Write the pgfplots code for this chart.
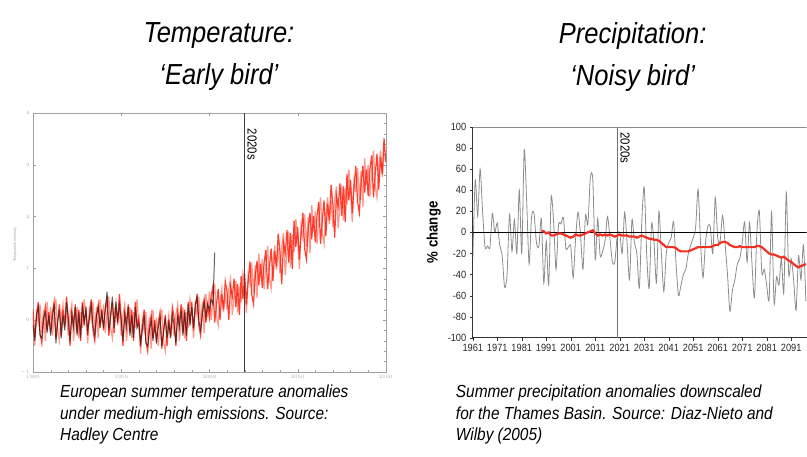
\documentclass[border=0pt]{standalone}
\usepackage{pgfplots}
\pgfplotsset{compat=1.18}
\usepackage{fontspec}
\setmainfont{Liberation Sans}[FakeStretch=0.88]
\definecolor{redA}{HTML}{FF2A1A}
\definecolor{redB}{HTML}{FF8070}
\definecolor{obs}{HTML}{2A1A1A}
\definecolor{precip}{HTML}{8C8C8C}
\definecolor{avg}{HTML}{F03224}
\begin{document}
\begin{tikzpicture}
\path (0pt,0pt) rectangle (807pt,457pt);
% titles
\node[font=\fontsize{29}{42}\selectfont\itshape, align=center] at (219pt,400pt) {Temperature:\\‘Early bird’};
\node[font=\fontsize{29}{42}\selectfont\itshape, align=center] at (633pt,400pt) {Precipitation:\\‘Noisy bird’};
% captions
\node[anchor=north west, align=left, inner sep=0pt, font=\fontsize{17.5}{21.5}\selectfont\itshape] at (60pt,72pt) {European summer temperature anomalies\\under medium-high emissions. Source:\\Hadley Centre};
\node[anchor=north west, align=left, inner sep=0pt, font=\fontsize{17.5}{21.5}\selectfont\itshape] at (456pt,72pt) {Summer precipitation anomalies downscaled\\for the Thames Basin. Source: Diaz-Nieto and\\Wilby (2005)};
% left y label (tiny, as in the reference)
\node[rotate=90, font=\fontsize{4}{4}\selectfont, text=gray!70] at (15pt,212pt) {Temperature anomaly};

% ---------------- left panel ----------------
\begin{axis}[at={(33pt,85pt)}, anchor=south west, width=353pt, height=259pt, scale only axis,
  xmin=1900, xmax=2100, ymin=-1, ymax=4,
  xtick={1900,1950,...,2100}, ytick={-1,0,1,2,3,4},
  minor x tick num=4, minor y tick num=4,
  tick align=inside, major tick length=3pt, minor tick length=1.5pt,
  axis line style={gray!75}, tick style={gray!75},
  ticklabel style={font=\fontsize{4}{4}\selectfont, text=gray!70},
  /pgf/number format/1000 sep={},
  clip=true]
\addplot[redB, line width=1.3pt, opacity=0.8] coordinates {
(1900,0.05)(1901,-0.50)(1902,0.15)(1903,-0.05)(1904,0.30)(1905,-0.25)(1906,0.20)(1907,-0.40)(1908,0.35)(1909,-0.10)
(1910,0.25)(1911,-0.30)(1912,0.10)(1913,0.40)(1914,-0.20)(1915,-0.40)(1916,0.05)(1917,0.30)(1918,-0.15)(1919,0.20)
(1920,-0.30)(1921,0.10)(1922,0.30)(1923,-0.40)(1924,-0.05)(1925,0.25)(1926,-0.35)(1927,0.15)(1928,-0.15)(1929,0.40)
(1930,0.10)(1931,-0.45)(1932,0.20)(1933,0.00)(1934,0.35)(1935,-0.20)(1936,0.25)(1937,-0.35)(1938,0.40)(1939,-0.05)
(1940,0.30)(1941,-0.25)(1942,0.15)(1943,0.45)(1944,-0.15)(1945,-0.35)(1946,0.10)(1947,0.35)(1948,-0.10)(1949,0.25)
(1950,-0.30)(1951,0.10)(1952,0.30)(1953,-0.40)(1954,-0.05)(1955,0.25)(1956,-0.35)(1957,0.15)(1958,-0.15)(1959,0.40)
(1960,-0.10)(1961,-0.65)(1962,0.00)(1963,-0.20)(1964,0.15)(1965,-0.40)(1966,0.05)(1967,-0.55)(1968,0.20)(1969,-0.25)
(1970,0.05)(1971,-0.50)(1972,-0.10)(1973,0.20)(1974,-0.40)(1975,-0.60)(1976,-0.15)(1977,0.10)(1978,-0.35)(1979,0.00)
(1980,-0.30)(1981,0.10)(1982,0.30)(1983,-0.40)(1984,-0.05)(1985,0.25)(1986,-0.35)(1987,0.15)(1988,-0.15)(1989,0.40)
(1990,0.20)(1991,-0.35)(1992,0.30)(1993,0.10)(1994,0.45)(1995,-0.10)(1996,0.35)(1997,-0.25)(1998,0.50)(1999,0.05)
(2000,0.55)(2001,0.00)(2002,0.40)(2003,0.70)(2004,0.10)(2005,-0.10)(2006,0.35)(2007,0.60)(2008,0.15)(2009,0.50)
(2010,0.20)(2011,0.60)(2012,0.80)(2013,0.10)(2014,0.45)(2015,0.75)(2016,0.15)(2017,0.65)(2018,0.35)(2019,0.90)
(2020,0.71)(2021,0.14)(2022,0.88)(2023,0.69)(2024,1.11)(2025,0.53)(2026,1.06)(2027,0.43)(2028,1.28)(2029,0.82)
(2030,1.18)(2031,0.60)(2032,1.07)(2033,1.43)(2034,0.80)(2035,0.61)(2036,1.14)(2037,1.44)(2038,0.97)(2039,1.39)
(2040,0.90)(2041,1.41)(2042,1.68)(2043,0.87)(2044,1.32)(2045,1.71)(2046,1.02)(2047,1.65)(2048,1.32)(2049,1.95)
(2050,1.62)(2051,0.99)(2052,1.80)(2053,1.59)(2054,2.04)(2055,1.41)(2056,1.98)(2057,1.29)(2058,2.22)(2059,1.71)
(2060,2.10)(2061,1.47)(2062,1.98)(2063,2.37)(2064,1.68)(2065,1.47)(2066,2.04)(2067,2.37)(2068,1.86)(2069,2.31)
(2070,1.80)(2071,2.31)(2072,2.58)(2073,1.77)(2074,2.22)(2075,2.61)(2076,1.92)(2077,2.55)(2078,2.22)(2079,2.91)
(2080,2.52)(2081,1.89)(2082,2.70)(2083,2.49)(2084,2.94)(2085,2.31)(2086,2.88)(2087,2.19)(2088,3.12)(2089,2.61)
(2090,3.00)(2091,2.37)(2092,2.88)(2093,3.27)(2094,2.58)(2095,2.37)(2096,2.94)(2097,3.27)(2098,2.76)(2099,3.21)
(2100,3.20)};
\addplot[redA, line width=1.2pt, opacity=0.9] coordinates {
(1900,0.20)(1901,-0.35)(1902,0.05)(1903,0.35)(1904,-0.25)(1905,-0.45)(1906,0.00)(1907,0.25)(1908,-0.20)(1909,0.15)
(1910,-0.25)(1911,0.15)(1912,0.35)(1913,-0.35)(1914,0.00)(1915,0.30)(1916,-0.30)(1917,0.20)(1918,-0.10)(1919,0.45)
(1920,0.05)(1921,-0.50)(1922,0.15)(1923,-0.05)(1924,0.30)(1925,-0.25)(1926,0.20)(1927,-0.40)(1928,0.35)(1929,-0.10)
(1930,0.25)(1931,-0.30)(1932,0.10)(1933,0.40)(1934,-0.20)(1935,-0.40)(1936,0.05)(1937,0.30)(1938,-0.15)(1939,0.20)
(1940,-0.20)(1941,0.20)(1942,0.40)(1943,-0.30)(1944,0.05)(1945,0.35)(1946,-0.25)(1947,0.25)(1948,-0.05)(1949,0.50)
(1950,0.05)(1951,-0.50)(1952,0.15)(1953,-0.05)(1954,0.30)(1955,-0.25)(1956,0.20)(1957,-0.40)(1958,0.35)(1959,-0.10)
(1960,0.05)(1961,-0.50)(1962,-0.10)(1963,0.20)(1964,-0.40)(1965,-0.60)(1966,-0.15)(1967,0.10)(1968,-0.35)(1969,0.00)
(1970,-0.45)(1971,-0.05)(1972,0.15)(1973,-0.55)(1974,-0.20)(1975,0.10)(1976,-0.50)(1977,0.00)(1978,-0.30)(1979,0.25)
(1980,0.05)(1981,-0.50)(1982,0.15)(1983,-0.05)(1984,0.30)(1985,-0.25)(1986,0.20)(1987,-0.40)(1988,0.35)(1989,-0.10)
(1990,0.35)(1991,-0.20)(1992,0.20)(1993,0.50)(1994,-0.10)(1995,-0.30)(1996,0.15)(1997,0.40)(1998,-0.05)(1999,0.30)
(2000,0.05)(2001,0.45)(2002,0.65)(2003,-0.05)(2004,0.30)(2005,0.60)(2006,0.00)(2007,0.50)(2008,0.20)(2009,0.75)
(2010,0.55)(2011,0.00)(2012,0.65)(2013,0.45)(2014,0.80)(2015,0.25)(2016,0.70)(2017,0.10)(2018,0.85)(2019,0.40)
(2020,0.88)(2021,0.30)(2022,0.77)(2023,1.13)(2024,0.50)(2025,0.31)(2026,0.84)(2027,1.14)(2028,0.67)(2029,1.09)
(2030,0.62)(2031,1.10)(2032,1.35)(2033,0.60)(2034,1.02)(2035,1.38)(2036,0.75)(2037,1.33)(2038,1.03)(2039,1.67)
(2040,1.32)(2041,0.69)(2042,1.50)(2043,1.29)(2044,1.74)(2045,1.11)(2046,1.68)(2047,0.99)(2048,1.92)(2049,1.41)
(2050,1.80)(2051,1.17)(2052,1.68)(2053,2.07)(2054,1.38)(2055,1.17)(2056,1.74)(2057,2.07)(2058,1.56)(2059,2.01)
(2060,1.50)(2061,2.01)(2062,2.28)(2063,1.47)(2064,1.92)(2065,2.31)(2066,1.62)(2067,2.25)(2068,1.92)(2069,2.61)
(2070,2.22)(2071,1.59)(2072,2.40)(2073,2.19)(2074,2.64)(2075,2.01)(2076,2.58)(2077,1.89)(2078,2.82)(2079,2.31)
(2080,2.70)(2081,2.07)(2082,2.58)(2083,2.97)(2084,2.28)(2085,2.07)(2086,2.64)(2087,2.97)(2088,2.46)(2089,2.91)
(2090,2.40)(2091,2.91)(2092,3.18)(2093,2.37)(2094,2.82)(2095,3.21)(2096,2.52)(2097,3.15)(2098,2.82)(2099,3.51)
(2100,3.05)};
\addplot[obs, line width=1.0pt, opacity=0.7] coordinates {
(1900,-0.10)(1901,-0.40)(1902,0.10)(1903,0.25)(1904,-0.30)(1905,-0.35)(1906,0.05)(1907,0.15)(1908,-0.25)(1909,0.10)
(1910,-0.30)(1911,0.05)(1912,0.30)(1913,-0.45)(1914,-0.05)(1915,0.20)(1916,-0.35)(1917,0.10)(1918,-0.20)(1919,0.35)
(1920,0.00)(1921,-0.40)(1922,0.10)(1923,-0.15)(1924,0.25)(1925,-0.30)(1926,0.15)(1927,-0.35)(1928,0.30)(1929,-0.05)
(1930,0.20)(1931,-0.20)(1932,0.05)(1933,0.30)(1934,-0.10)(1935,-0.30)(1936,0.10)(1937,0.25)(1938,-0.10)(1939,0.15)
(1940,-0.15)(1941,0.25)(1942,0.55)(1943,-0.20)(1944,0.10)(1945,0.45)(1946,-0.15)(1947,0.35)(1948,0.00)(1949,0.30)
(1950,0.00)(1951,-0.40)(1952,0.10)(1953,-0.15)(1954,0.25)(1955,-0.30)(1956,0.10)(1957,-0.35)(1958,0.25)(1959,-0.15)
(1960,-0.05)(1961,-0.45)(1962,-0.20)(1963,0.10)(1964,-0.45)(1965,-0.50)(1966,-0.20)(1967,0.00)(1968,-0.40)(1969,-0.10)
(1970,-0.40)(1971,-0.15)(1972,0.05)(1973,-0.50)(1974,-0.25)(1975,0.05)(1976,-0.35)(1977,-0.05)(1978,-0.35)(1979,0.10)
(1980,-0.10)(1981,-0.45)(1982,0.10)(1983,-0.15)(1984,0.20)(1985,-0.30)(1986,0.15)(1987,-0.30)(1988,0.30)(1989,-0.05)
(1990,0.25)(1991,-0.15)(1992,0.30)(1993,0.45)(1994,0.00)(1995,-0.20)(1996,0.10)(1997,0.35)(1998,0.05)(1999,0.30)
(2000,0.20)(2001,0.40)(2002,0.30)(2003,1.30)};
\draw[black!75, line width=0.7pt] (axis cs:2020,-1) -- (axis cs:2020,4);
\node[rotate=-90, anchor=south west, inner sep=0pt, font=\fontsize{13}{13}\selectfont] at (axis cs:2021.5,3.7) {2020s};
\end{axis}

% ---------------- right panel ----------------
\begin{axis}[at={(473pt,119pt)}, anchor=south west, width=334pt, height=211pt, scale only axis,
  xmin=1961, xmax=2097.3, ymin=-100, ymax=100,
  axis x line*=bottom, axis y line*=left,
  xtick={1961,1971,...,2091}, ytick={-100,-80,...,100},
  tick align=outside, major tick length=3pt,
  axis line style={black!80, line width=0.8pt}, tick style={black!80},
  ticklabel style={font=\fontsize{10.5}{10.5}\selectfont, text=black!85},
  /pgf/number format/assume math mode=true,
  /pgf/number format/1000 sep={},
  ylabel={\% change},
  ylabel style={font=\fontsize{15}{15}\selectfont\bfseries, at={(axis description cs:-0.085,0.5)}},
  clip=true]
\draw[black!45, line width=0.8pt] (rel axis cs:0,1) -- (rel axis cs:1,1);
\draw[black!55, line width=1.2pt] (axis cs:2020,-100) -- (axis cs:2020,100);
\addplot[precip, line width=0.8pt, smooth, tension=0.45] coordinates {
(1961,-26)(1962,50)(1963,15)(1964,60)(1965,20)(1966,-14)(1967,-13)(1968,-14)(1969,18)(1970,0)
(1971,9)(1972,-12)(1973,-22)(1974,-52)(1975,-40)(1976,17)(1977,-18)(1978,12)(1979,-20)(1980,40)
(1981,-20)(1982,78)(1983,30)(1984,-30)(1985,15)(1986,18)(1987,-10)(1988,-13)(1989,13)(1990,-48)
(1991,-8)(1992,-50)(1993,33)(1994,10)(1995,-35)(1996,7)(1997,8)(1998,14)(1999,-15)(2000,-14)
(2001,-13)(2002,-43)(2003,-5)(2004,19)(2005,-3)(2006,-35)(2007,16)(2008,8)(2009,52)(2010,50)
(2011,-26)(2012,13)(2013,-22)(2014,-18)(2015,-8)(2016,15)(2017,-5)(2018,-28)(2019,-28)(2020,-3)
(2021,0)(2022,-20)(2023,19)(2024,-10)(2025,-45)(2026,12)(2027,-10)(2028,-20)(2029,-53)(2030,10)
(2031,43)(2032,-20)(2033,-53)(2034,8)(2035,-10)(2036,-48)(2037,20)(2038,-20)(2039,-56)(2040,-20)
(2041,-10)(2042,-5)(2043,10)(2044,-30)(2045,-60)(2046,-50)(2047,-40)(2048,-35)(2049,-20)(2050,-12)
(2051,-5)(2052,5)(2053,41)(2054,-10)(2055,-43)(2056,-10)(2057,6)(2058,5)(2059,-20)(2060,33)
(2061,-5)(2062,-8)(2063,16)(2064,-10)(2065,-40)(2066,-75)(2067,-55)(2068,-45)(2069,-30)(2070,-25)
(2071,-10)(2072,10)(2073,-28)(2074,9)(2075,-30)(2076,-62)(2077,0)(2078,20)(2079,-38)(2080,-35)
(2081,-50)(2082,-63)(2083,19)(2084,-67)(2085,-42)(2086,-50)(2087,-25)(2088,-57)(2089,38)(2090,-40)
(2091,-25)(2092,-45)(2093,-74)(2094,-22)(2095,-45)(2096,-12)(2097,-65)};
\draw[black, line width=0.8pt] (axis cs:1961,0) -- (axis cs:2097.3,0);
\addplot[avg, line width=2.2pt] coordinates {
(1989,1)(1990,1)(1991,-1)(1992,0)(1993,-3)(1994,-3)(1995,-2)(1996,-1)(1997,-1)(1998,-2)
(1999,-3)(2000,-4)(2001,-5)(2002,-4)(2003,-2)(2004,-3)(2005,-3)(2006,-2)(2007,-1)(2008,0)
(2009,1)(2010,2)(2011,-1)(2012,-3)(2013,-2)(2014,-3)(2015,-2)(2016,-3)(2017,-2)(2018,-3)
(2019,-4)(2020,-3)(2021,-2)(2022,-3)(2023,-3)(2024,-3)(2025,-4)(2026,-4)(2027,-4)(2028,-5)
(2029,-4)(2030,-3)(2031,-4)(2032,-5)(2033,-6)(2034,-6)(2035,-7)(2036,-7)(2037,-8)(2038,-10)
(2039,-12)(2040,-14)(2041,-14)(2042,-14)(2043,-14)(2044,-15)(2045,-17)(2046,-18)(2047,-18)(2048,-18)
(2049,-18)(2050,-17)(2051,-16)(2052,-15)(2053,-14)(2054,-14)(2055,-14)(2056,-14)(2057,-14)(2058,-14)
(2059,-13)(2060,-12)(2061,-12)(2062,-10)(2063,-9)(2064,-9)(2065,-10)(2066,-12)(2067,-13)(2068,-14)
(2069,-14)(2070,-13)(2071,-14)(2072,-14)(2073,-14)(2074,-14)(2075,-14)(2076,-14)(2077,-13)(2078,-13)
(2079,-14)(2080,-16)(2081,-18)(2082,-20)(2083,-21)(2084,-21)(2085,-22)(2086,-23)(2087,-24)(2088,-23)
(2089,-25)(2090,-27)(2091,-28)(2092,-30)(2093,-32)(2094,-33)(2095,-32)(2096,-31)(2097,-30)};
\node[rotate=-90, anchor=south west, inner sep=0pt, font=\fontsize{13}{13}\selectfont] at (axis cs:2021.2,95) {2020s};
\end{axis}
\end{tikzpicture}
\end{document}
